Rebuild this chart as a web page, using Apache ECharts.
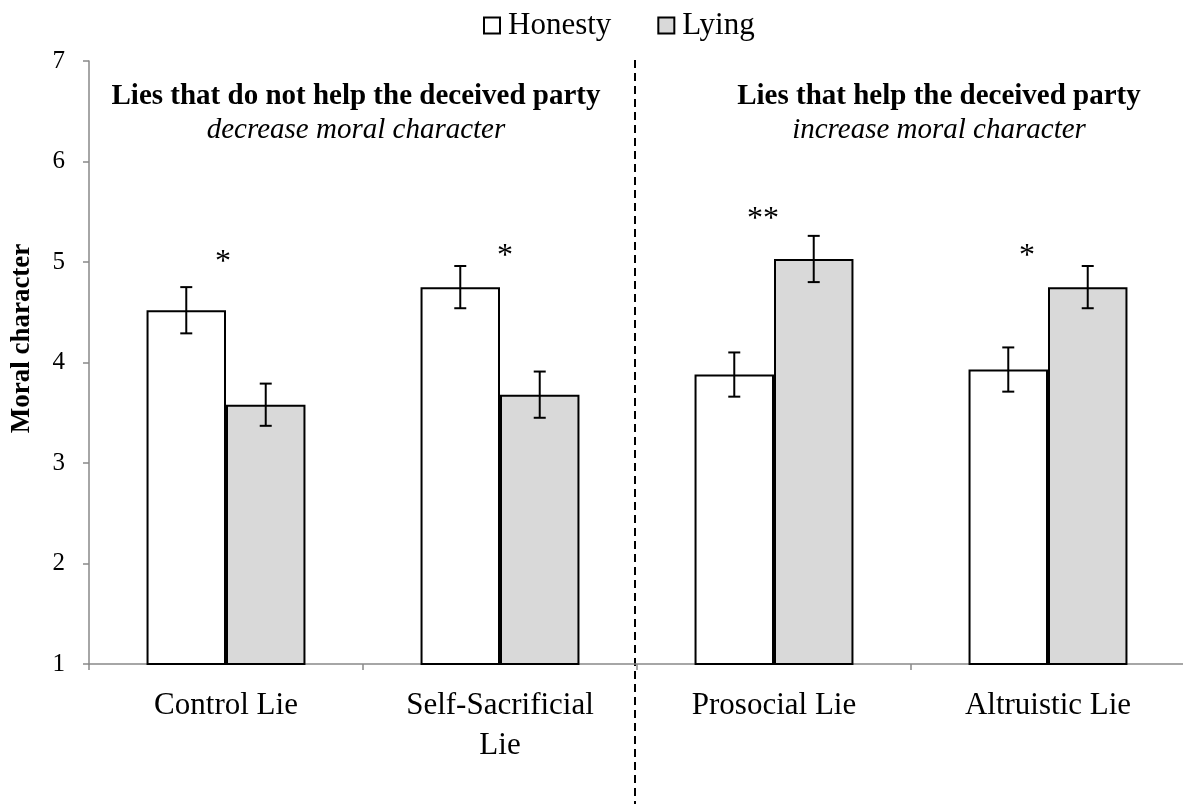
<!DOCTYPE html>
<html>
<head>
<meta charset="utf-8">
<script src="https://cdn.jsdelivr.net/npm/echarts@6/dist/echarts.min.js"></script>
<style>
    html, body { margin: 0; padding: 0; background: #fff; }
    #chart { width: 1183px; height: 804px; }
</style>
</head>
<body>
<div id="chart"></div>
<script>
    // values
    var categories = ['Control Lie', 'Self-Sacrificial\nLie', 'Prosocial Lie', 'Altruistic Lie'];
    var honesty = [4.52, 4.75, 3.88, 3.93];
    var lying = [3.58, 3.68, 5.03, 4.75];
    var honestyErr = [0.23, 0.21, 0.22, 0.22];
    var lyingErr = [0.21, 0.23, 0.23, 0.21];
    var stars = ['*', '*', '**', '*'];
    var starLevel = [5.05, 5.11, 5.48, 5.11];

    var serif = '"Liberation Serif", "Times New Roman", serif';
    var catGap = 0.42;
    var starNudge = [-3, 5, -11, -21]; // px, the stars aren't quite centred in the original

    var chartDom = document.getElementById('chart');
    var myChart = echarts.init(chartDom);
    var option;

    function errData(vals, errs) {
        var out = [];
        for (var i = 0; i < vals.length; i++) {
            out.push([i, vals[i], errs[i]]);
        }
        return out;
    }

    function errRender(side) {
        return function (params, api) {
            var band = api.size([1, 0])[0];
            var barW = band * (1 - catGap) / 2;
            var c = api.coord([api.value(0), api.value(1)]);
            var x = c[0] + side * barW / 2;
            var v = api.value(1), e = api.value(2);
            var top = api.coord([api.value(0), v + e])[1];
            var bot = api.coord([api.value(0), v - e])[1];
            var cap = 6;
            var st = { stroke: '#000', lineWidth: 2 };
            return {
                type: 'group',
                children: [
                    { type: 'line', shape: { x1: x, y1: top, x2: x, y2: bot }, style: st },
                    { type: 'line', shape: { x1: x - cap, y1: top, x2: x + cap, y2: top }, style: st },
                    { type: 'line', shape: { x1: x - cap, y1: bot, x2: x + cap, y2: bot }, style: st }
                ]
            };
        };
    }

    var starData = [];
    for (var i = 0; i < stars.length; i++) {
        starData.push([i, starLevel[i], stars[i]]);
    }

    option = {
        animation: false,
        backgroundColor: '#fff',
        textStyle: { fontFamily: serif, color: '#000' },
        grid: { left: 89, top: 61, width: 1096, height: 603, outerBoundsMode: 'none', containLabel: false },
        legend: {
            top: 5,
            left: 478,
            itemWidth: 16,
            itemHeight: 16,
            itemGap: 46,
            icon: 'rect',
            textStyle: { fontFamily: serif, fontSize: 31, color: '#000', padding: [0, 0, 0, 3] },
            data: ['Honesty', 'Lying']
        },
        xAxis: {
            type: 'category',
            data: categories,
            axisLine: { lineStyle: { color: '#898989', width: 1.5 } },
            axisTick: { show: true, length: 6, lineStyle: { color: '#898989', width: 1.5 } },
            axisLabel: {
                margin: 22,
                fontFamily: serif,
                fontSize: 31,
                lineHeight: 40,
                color: '#000'
            }
        },
        yAxis: {
            type: 'value',
            min: 1,
            max: 7,
            interval: 1,
            name: 'Moral character',
            nameLocation: 'middle',
            nameRotate: 90,
            nameGap: 53,
            nameTextStyle: {
                fontFamily: serif,
                fontSize: 27,
                fontWeight: 'bold',
                color: '#000',
                padding: [0, 0, 0, 48]
            },
            splitLine: { show: false },
            axisLine: { show: true, lineStyle: { color: '#898989', width: 1.5 } },
            axisTick: { show: true, length: 6, lineStyle: { color: '#898989', width: 1.5 } },
            axisLabel: { margin: 24, fontFamily: serif, fontSize: 25, color: '#000' }
        },
        series: [
            {
                name: 'Honesty',
                type: 'bar',
                data: honesty,
                barGap: '0%',
                barCategoryGap: (catGap * 100) + '%',
                itemStyle: { color: '#ffffff', borderColor: '#000', borderWidth: 2 }
            },
            {
                name: 'Lying',
                type: 'bar',
                data: lying,
                itemStyle: { color: '#d9d9d9', borderColor: '#000', borderWidth: 2 }
            },
            {
                type: 'custom',
                renderItem: errRender(-1),
                data: errData(honesty, honestyErr),
                encode: { x: 0, y: 1 },
                z: 5
            },
            {
                type: 'custom',
                renderItem: errRender(1),
                data: errData(lying, lyingErr),
                encode: { x: 0, y: 1 },
                z: 5
            },
            {
                type: 'custom',
                data: starData,
                encode: { x: 0, y: 1 },
                z: 5,
                renderItem: function (params, api) {
                    var c = api.coord([api.value(0), api.value(1)]);
                    return {
                        type: 'text',
                        x: c[0] + starNudge[params.dataIndex],
                        y: c[1] + 6,
                        style: {
                            text: starData[params.dataIndex][2],
                            font: '32px ' + serif,
                            fill: '#000',
                            textAlign: 'center',
                            textVerticalAlign: 'middle'
                        }
                    };
                }
            }
        ],
        graphic: [
            {
                type: 'line',
                shape: { x1: 635, y1: 60, x2: 635, y2: 804 },
                style: { stroke: '#000', lineWidth: 2, lineDash: [8, 5] }
            },
            {
                type: 'text', x: 356, y: 97,
                style: { text: 'Lies that do not help the deceived party', font: 'bold 29px ' + serif, fill: '#000', textAlign: 'center', textVerticalAlign: 'middle' }
            },
            {
                type: 'text', x: 356, y: 130,
                style: { text: 'decrease moral character', font: 'italic 29px ' + serif, fill: '#000', textAlign: 'center', textVerticalAlign: 'middle' }
            },
            {
                type: 'text', x: 939, y: 97,
                style: { text: 'Lies that help the deceived party', font: 'bold 29px ' + serif, fill: '#000', textAlign: 'center', textVerticalAlign: 'middle' }
            },
            {
                type: 'text', x: 939, y: 130,
                style: { text: 'increase moral character', font: 'italic 29px ' + serif, fill: '#000', textAlign: 'center', textVerticalAlign: 'middle' }
            }
        ]
    };

    option && myChart.setOption(option);
</script>
</body>
</html>
